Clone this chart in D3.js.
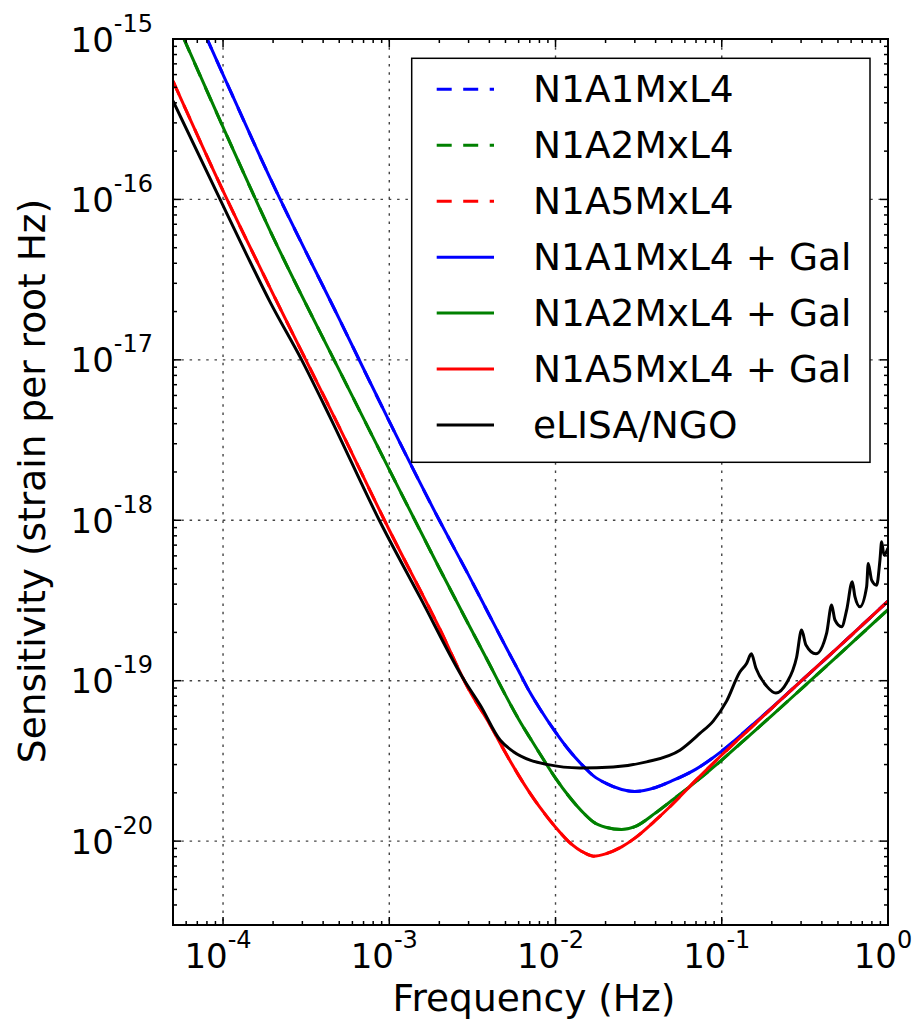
<!DOCTYPE html>
<html><head><meta charset="utf-8">
<script src="https://cdn.jsdelivr.net/npm/d3@7"></script>
<style>body{margin:0;background:#fff} svg{display:block} text{font-family:"DejaVu Sans",sans-serif;fill:#000}</style>
</head><body>
<svg id="chart" width="912" height="1022"></svg>
<script>
// ---- data ----
const freq = [5e-5, 1e-4, 2e-4, 5e-4, 1e-3, 2e-3, 3e-3, 4e-3, 5e-3, 6e-3, 7e-3, 8e-3, 1e-2, 1.2e-2, 1.5e-2, 1.7e-2, 2e-2, 2.5e-2, 3e-2, 4e-2, 5e-2, 7e-2, 1e-1, 1.5e-1, 2e-1, 3e-1, 5e-1, 1];
const n1a1 = [3.0e-15, 6.0e-16, 1.24e-16, 1.8e-17, 4.13e-18, 1.0e-18, 4.55e-19, 2.56e-19, 1.64e-19, 1.15e-19, 8.49e-20, 6.75e-20, 4.78e-20, 3.71e-20, 2.87e-20, 2.54e-20, 2.30e-20, 2.1e-20, 2.04e-20, 2.16e-20, 2.37e-20, 2.81e-20, 3.64e-20, 5.21e-20, 6.78e-20, 9.94e-20, 1.61e-19, 3.135e-19];
const n1a2 = [1.43e-15, 2.82e-16, 5.83e-17, 8.63e-18, 2.07e-18, 5.02e-19, 2.24e-19, 1.27e-19, 8.13e-20, 5.76e-20, 4.42e-20, 3.54e-20, 2.47e-20, 1.91e-20, 1.47e-20, 1.31e-20, 1.22e-20, 1.18e-20, 1.23e-20, 1.5e-20, 1.79e-20, 2.35e-20, 3.2e-20, 4.65e-20, 6.06e-20, 8.86e-20, 1.434e-19, 2.774e-19];
const n1a5 = [5.47e-16, 1.13e-16, 2.57e-17, 3.81e-18, 8.7e-19, 2.13e-19, 8.87e-20, 5.4e-20, 3.55e-20, 2.57e-20, 2.0e-20, 1.64e-20, 1.22e-20, 9.93e-21, 8.43e-21, 8.06e-21, 8.33e-21, 9.21e-21, 1.044e-20, 1.35e-20, 1.68e-20, 2.40e-20, 3.44e-20, 5.10e-20, 6.75e-20, 9.94e-20, 1.609e-19, 3.135e-19];
const elisaFreq = [5.0e-5, 9.6e-5, 1.39e-4, 1.92e-4, 2.97e-4, 4.4e-4, 8.8e-4, 1.53e-3, 2.86e-3, 3.52e-3, 4.64e-3, 5.58e-3, 7.03e-3, 8.86e-3, 1.4e-2, 2.22e-2, 3.53e-2, 5.6e-2, 7.38e-2, 8.88e-2, 0.1069, 0.1285, 0.141, 0.1507, 0.1604, 0.1861, 0.2117, 0.2455, 0.282, 0.3021, 0.3209, 0.3684, 0.4274, 0.458, 0.4796, 0.5261, 0.5638, 0.6094, 0.6326, 0.6778, 0.7438, 0.7606, 0.797, 0.8545, 0.8945, 0.9159, 0.9455, 1.0];
const elisa = [4.11e-16, 1.0e-16, 4.5e-17, 2.29e-17, 1.0e-17, 4.4e-18, 9.79e-19, 3.32e-19, 9.84e-20, 7.05e-20, 4.27e-20, 3.61e-20, 3.2e-20, 3.01e-20, 2.86e-20, 2.9e-20, 3.12e-20, 3.69e-20, 4.69e-20, 5.6e-20, 7.46e-20, 1.133e-19, 1.28e-19, 1.47e-19, 1.2e-19, 9.25e-20, 8.37e-20, 9.66e-20, 1.4e-19, 2.07e-19, 1.67e-19, 1.47e-19, 1.98e-19, 2.96e-19, 2.39e-19, 2.17e-19, 2.75e-19, 4.14e-19, 3.34e-19, 2.89e-19, 3.85e-19, 5.38e-19, 4.24e-19, 3.94e-19, 5.65e-19, 7.34e-19, 6.07e-19, 6.71e-19];
const legendLabels = ["N1A1MxL4", "N1A2MxL4", "N1A5MxL4", "N1A1MxL4 + Gal", "N1A2MxL4 + Gal", "N1A5MxL4 + Gal", "eLISA/NGO"];
const xTickExps = [-4, -3, -2, -1, 0];
const yTickExps = [-20, -19, -18, -17, -16, -15];
const xLabel = "Frequency (Hz)";
const yLabel = "Sensitivity (strain per root Hz)";

// ---- layout ----
const L = 173, R = 888, T = 39, B = 925;
const svg = d3.select("#chart");
const x = d3.scaleLog().domain([5e-5, 1]).range([L, R]);
const y = d3.scaleLog().domain([3e-21, 1e-15]).range([B, T]);

svg.append("defs").append("clipPath").attr("id", "clip")
  .append("rect").attr("x", L).attr("y", T).attr("width", R - L).attr("height", B - T);

// grid
const grid = svg.append("g").attr("stroke", "#444").attr("stroke-width", 1.4)
  .attr("stroke-dasharray", "2.5,5.8").attr("fill", "none");
xTickExps.filter(e => x(Math.pow(10, e)) < R - 2).forEach(e => {
  const px = x(Math.pow(10, e));
  grid.append("line").attr("x1", px).attr("x2", px).attr("y1", T).attr("y2", B);
});
yTickExps.filter(e => y(Math.pow(10, e)) > T + 2).forEach(e => {
  const py = y(Math.pow(10, e));
  grid.append("line").attr("x1", L).attr("x2", R).attr("y1", py).attr("y2", py);
});

// lines
const series = [
  {vals: n1a1, xs: freq, color: "#0000ff", dash: "15,11.5"},
  {vals: n1a2, xs: freq, color: "#008000", dash: "15,11.5"},
  {vals: n1a5, xs: freq, color: "#ff0000", dash: "15,11.5"},
  {vals: n1a1, xs: freq, color: "#0000ff", dash: null},
  {vals: n1a2, xs: freq, color: "#008000", dash: null},
  {vals: n1a5, xs: freq, color: "#ff0000", dash: null},
  {vals: elisa, xs: elisaFreq, color: "#000000", dash: null}
];
const line = d3.line().x(d => x(d[0])).y(d => y(d[1])).curve(d3.curveMonotoneX);
const lg = svg.append("g").attr("clip-path", "url(#clip)");
series.forEach(s => {
  lg.append("path").datum(s.xs.map((f, i) => [f, s.vals[i]]))
    .attr("d", line).attr("fill", "none").attr("stroke", s.color)
    .attr("stroke-width", 3).attr("stroke-linejoin", "round")
    .attr("stroke-dasharray", s.dash);
});

// ticks (inside, all four sides)
const tk = svg.append("g").attr("stroke", "#000").attr("stroke-width", 1.5);
const majLen = 8, minLen = 4;
for (let e = -5; e <= 0; e++) {
  for (let k = 1; k <= 9; k++) {
    const v = k * Math.pow(10, e);
    if (v < 5e-5 * 0.999 || v > 1.001) continue;
    const px = x(v), len = k === 1 ? majLen : minLen;
    tk.append("line").attr("x1", px).attr("x2", px).attr("y1", B).attr("y2", B - len);
    tk.append("line").attr("x1", px).attr("x2", px).attr("y1", T).attr("y2", T + len);
  }
}
for (let e = -21; e <= -15; e++) {
  for (let k = 1; k <= 9; k++) {
    const v = k * Math.pow(10, e);
    if (v < 3e-21 * 0.999 || v > 1.001e-15) continue;
    const py = y(v), len = k === 1 ? majLen : minLen;
    tk.append("line").attr("x1", L).attr("x2", L + len).attr("y1", py).attr("y2", py);
    tk.append("line").attr("x1", R).attr("x2", R - len).attr("y1", py).attr("y2", py);
  }
}

// frame
svg.append("rect").attr("x", L).attr("y", T).attr("width", R - L).attr("height", B - T)
  .attr("fill", "none").attr("stroke", "#000").attr("stroke-width", 2);

// tick labels
yTickExps.forEach(e => {
  const t = svg.append("text").attr("x", 153).attr("y", y(Math.pow(10, e)) + 12.5)
    .attr("text-anchor", "end").attr("font-size", 34).text("10");
  t.append("tspan").attr("dy", -20).attr("font-size", 24).text("-" + (-e));
});
xTickExps.forEach(e => {
  const t = svg.append("text").attr("x", x(Math.pow(10, e)) - 5).attr("y", 968)
    .attr("text-anchor", "middle").attr("font-size", 34).text("10");
  t.append("tspan").attr("dy", -20).attr("font-size", 24).text(e === 0 ? "0" : "-" + (-e));
});

// axis labels
svg.append("text").attr("x", 534).attr("y", 1011).attr("text-anchor", "middle")
  .attr("font-size", 37.5).text(xLabel);
svg.append("text").attr("transform", "translate(45,481) rotate(-90)").attr("text-anchor", "middle")
  .attr("font-size", 37.5).text(yLabel);

// legend
const leg = svg.append("g");
leg.append("rect").attr("x", 411.7).attr("y", 58.3).attr("width", 458.3).attr("height", 404)
  .attr("fill", "#fff").attr("stroke", "#000").attr("stroke-width", 1.5);
legendLabels.forEach((lab, i) => {
  const cy = 89.3 + i * 55.95, s = series[i];
  leg.append("line").attr("x1", 436.7).attr("x2", 494).attr("y1", cy).attr("y2", cy)
    .attr("stroke", s.color).attr("stroke-width", 3).attr("stroke-dasharray", s.dash);
  leg.append("text").attr("x", 533).attr("y", cy + 13).attr("font-size", 37.5).text(lab);
});
</script>
</body></html>
